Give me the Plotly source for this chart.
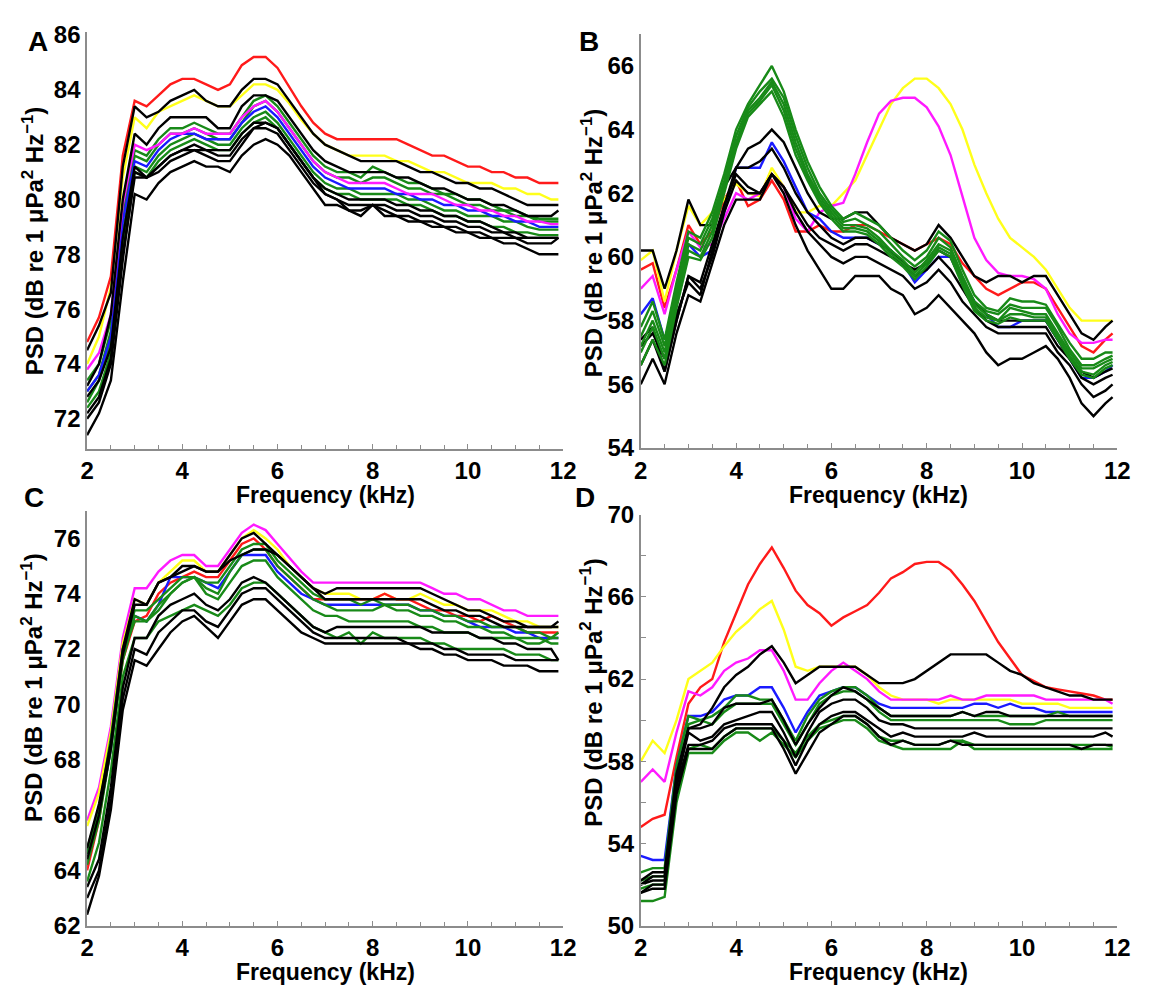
import plotly.graph_objects as go

# Frequency grid shared by all four panels (kHz)
FREQ_KHZ = [2.0, 2.25, 2.5, 2.75, 3.0, 3.25, 3.5, 3.75, 4.0, 4.25,
            4.5, 4.75, 5.0, 5.25, 5.5, 5.75, 6.0, 6.25, 6.5, 6.75,
            7.0, 7.25, 7.5, 7.75, 8.0, 8.25, 8.5, 8.75, 9.0, 9.25,
            9.5, 9.75, 10.0, 10.25, 10.5, 10.75, 11.0, 11.25, 11.5, 11.75,
            11.9]

X_TICKS = [2, 4, 6, 8, 10, 12]

# ---------------- Panel A ----------------
A_RED = [74.8, 75.7, 77.2, 81.6, 83.6, 83.4, 83.8, 84.2, 84.4, 84.4,
         84.2, 84.0, 84.2, 84.9, 85.2, 85.2, 84.8, 84.1, 83.4, 82.8,
         82.4, 82.2, 82.2, 82.2, 82.2, 82.2, 82.2, 82.0, 81.8, 81.6,
         81.6, 81.4, 81.2, 81.2, 81.0, 81.0, 80.8, 80.8, 80.6, 80.6,
         80.6]
A_YELLOW = [74.0, 75.0, 76.8, 80.8, 83.0, 82.6, 83.2, 83.4, 83.6, 83.8,
            83.6, 83.4, 83.4, 83.8, 84.2, 84.2, 84.0, 83.5, 82.9, 82.4,
            82.0, 81.8, 81.6, 81.6, 81.6, 81.6, 81.4, 81.4, 81.2, 81.0,
            81.0, 80.8, 80.6, 80.6, 80.6, 80.4, 80.4, 80.2, 80.2, 80.0,
            80.0]
A_MAGENTA = [73.8, 74.4, 75.8, 79.8, 82.0, 81.8, 82.0, 82.4, 82.4, 82.6,
             82.4, 82.4, 82.4, 83.0, 83.4, 83.6, 83.2, 82.6, 82.0, 81.4,
             81.0, 80.8, 80.6, 80.6, 80.6, 80.6, 80.4, 80.2, 80.2, 80.2,
             80.0, 79.8, 79.8, 79.6, 79.6, 79.4, 79.4, 79.2, 79.2, 79.1,
             79.1]
A_BLUE = [73.0, 73.6, 75.0, 79.2, 81.4, 81.2, 81.8, 82.2, 82.4, 82.4,
          82.2, 82.2, 82.2, 82.8, 83.2, 83.4, 83.0, 82.4, 81.8, 81.2,
          80.8, 80.6, 80.4, 80.4, 80.4, 80.4, 80.2, 80.2, 80.0, 80.0,
          79.8, 79.8, 79.6, 79.6, 79.4, 79.4, 79.2, 79.2, 79.0, 79.0,
          79.0]
A_GREEN1 = [73.4, 74.0, 75.6, 79.6, 81.8, 81.6, 82.2, 82.6, 82.6, 82.8,
            82.6, 82.4, 82.4, 83.0, 83.6, 83.8, 83.4, 82.8, 82.2, 81.6,
            81.2, 81.0, 81.0, 80.8, 81.2, 81.0, 80.8, 80.6, 80.6, 80.4,
            80.2, 80.2, 80.0, 80.0, 79.8, 79.6, 79.6, 79.4, 79.3, 79.3,
            79.3]
A_GREEN2 = [73.0, 73.6, 75.2, 79.4, 81.6, 81.4, 82.0, 82.4, 82.4, 82.6,
            82.4, 82.2, 82.2, 82.8, 83.4, 83.6, 83.2, 82.6, 82.0, 81.4,
            81.0, 80.8, 80.8, 80.6, 80.8, 80.8, 80.6, 80.4, 80.4, 80.2,
            80.2, 80.0, 79.8, 79.8, 79.6, 79.6, 79.4, 79.4, 79.2, 79.2,
            79.2]
A_GREEN3 = [72.6, 73.4, 74.8, 78.8, 81.2, 81.0, 81.6, 82.0, 82.2, 82.4,
            82.2, 82.0, 82.0, 82.6, 83.0, 83.2, 82.8, 82.2, 81.6, 81.0,
            80.6, 80.4, 80.4, 80.2, 80.2, 80.2, 80.2, 80.0, 80.0, 79.8,
            79.6, 79.6, 79.4, 79.4, 79.4, 79.2, 79.2, 79.0, 78.9, 78.9,
            78.9]
A_GREEN4 = [72.4, 73.0, 74.4, 78.4, 81.0, 80.8, 81.4, 81.8, 82.0, 82.2,
            82.0, 81.8, 81.8, 82.4, 82.8, 83.0, 82.6, 82.0, 81.4, 80.8,
            80.4, 80.2, 80.2, 80.0, 80.0, 80.0, 80.0, 79.8, 79.8, 79.6,
            79.4, 79.4, 79.2, 79.2, 79.0, 79.0, 78.8, 78.8, 78.7, 78.7,
            78.7]
A_BLACK1 = [74.5, 75.4, 76.6, 81.2, 83.4, 83.0, 83.2, 83.6, 83.8, 84.0,
            83.6, 83.4, 83.4, 84.0, 84.4, 84.4, 84.2, 83.6, 83.0, 82.4,
            82.0, 81.8, 81.6, 81.4, 81.4, 81.4, 81.4, 81.2, 81.0, 81.0,
            80.8, 80.6, 80.6, 80.4, 80.4, 80.2, 80.0, 79.8, 79.8, 79.8,
            79.8]
A_BLACK2 = [73.2, 74.0, 75.8, 80.0, 82.4, 82.0, 82.6, 83.0, 83.0, 83.0,
            83.0, 82.6, 82.6, 83.4, 83.8, 83.8, 83.6, 83.0, 82.4, 81.8,
            81.4, 81.2, 81.0, 81.0, 81.0, 81.0, 80.8, 80.8, 80.6, 80.4,
            80.4, 80.2, 80.0, 80.0, 79.8, 79.8, 79.6, 79.4, 79.4, 79.4,
            79.6]
A_BLACK3 = [72.8, 73.4, 74.6, 78.6, 81.2, 80.8, 81.2, 81.6, 81.8, 82.0,
            81.8, 81.8, 81.8, 82.4, 82.8, 82.8, 82.6, 82.0, 81.4, 80.8,
            80.4, 80.2, 80.0, 80.0, 80.0, 80.0, 79.8, 79.8, 79.6, 79.6,
            79.4, 79.4, 79.2, 79.2, 79.0, 78.8, 78.8, 78.6, 78.6, 78.6,
            78.6]
A_BLACK4 = [72.2, 72.8, 74.2, 78.0, 80.8, 80.8, 81.2, 81.6, 81.8, 81.8,
            81.8, 81.6, 81.6, 82.2, 82.6, 82.6, 82.4, 81.8, 81.2, 80.6,
            80.2, 80.0, 79.8, 79.8, 79.8, 79.8, 79.6, 79.6, 79.4, 79.4,
            79.2, 79.2, 79.0, 79.0, 78.8, 78.8, 78.6, 78.6, 78.6, 78.6,
            78.6]
A_BLACK5 = [72.0, 72.6, 74.0, 77.8, 81.0, 80.8, 81.0, 81.4, 81.6, 81.8,
            81.6, 81.4, 81.4, 82.0, 82.6, 82.8, 82.6, 82.0, 81.4, 80.8,
            80.2, 80.0, 79.6, 79.6, 79.8, 79.6, 79.4, 79.4, 79.2, 79.2,
            79.0, 79.0, 78.8, 78.8, 78.6, 78.6, 78.6, 78.4, 78.4, 78.4,
            78.6]
A_BLACK6 = [71.4, 72.2, 73.4, 77.0, 80.2, 80.0, 80.6, 81.0, 81.2, 81.4,
            81.2, 81.2, 81.0, 81.6, 82.0, 82.2, 82.0, 81.6, 81.0, 80.4,
            79.8, 79.8, 79.6, 79.4, 79.8, 79.4, 79.4, 79.2, 79.2, 79.0,
            79.0, 78.8, 78.8, 78.6, 78.6, 78.4, 78.4, 78.2, 78.0, 78.0,
            78.0]

# ---------------- Panel B ----------------
B_RED = [59.6, 59.8, 58.4, 59.6, 61.0, 60.4, 60.8, 61.8, 62.4, 61.6,
         61.8, 62.4, 61.8, 60.8, 60.8, 61.0, 60.8, 60.8, 61.0, 61.0,
         60.8, 60.6, 60.4, 60.2, 60.4, 60.6, 60.4, 59.8, 59.4, 59.0,
         58.8, 59.0, 59.2, 59.2, 59.0, 58.4, 57.8, 57.2, 57.0, 57.4,
         57.6]
B_YELLOW = [59.9, 60.2, 58.6, 60.2, 61.6, 61.0, 61.4, 61.8, 62.3, 62.0,
            61.9, 62.8, 62.2, 61.4, 61.4, 61.6, 61.6, 62.0, 62.4, 63.2,
            64.0, 64.8, 65.3, 65.6, 65.6, 65.3, 64.8, 64.0, 62.9, 62.0,
            61.2, 60.6, 60.3, 60.0, 59.6, 59.0, 58.4, 58.0, 58.0, 58.0,
            58.0]
B_MAGENTA = [59.0, 59.4, 58.2, 59.6, 60.8, 60.3, 60.4, 61.2, 62.0, 61.8,
             62.0, 62.6, 62.2, 61.2, 60.8, 61.4, 61.6, 61.7, 62.6, 63.6,
             64.5, 64.9, 65.0, 65.0, 64.7, 64.1, 63.2, 61.9, 60.6, 59.9,
             59.5, 59.4, 59.4, 59.3, 59.0, 58.2, 57.6, 57.3, 57.3, 57.4,
             57.4]
B_BLUE = [58.2, 58.7, 57.4, 58.6, 60.4, 60.0, 60.2, 61.4, 62.8, 62.8,
          62.8, 63.6, 63.0, 62.2, 61.4, 61.2, 60.8, 60.6, 60.6, 60.6,
          60.4, 60.2, 59.8, 59.2, 59.6, 60.0, 60.0, 59.2, 58.6, 58.2,
          57.8, 57.8, 58.0, 58.0, 58.0, 57.4, 56.8, 56.2, 56.2, 56.4,
          56.6]
B_GREEN1 = [57.8, 58.6, 57.4, 59.2, 60.8, 60.6, 61.4, 62.6, 64.0, 64.8,
            65.4, 66.0, 65.2, 64.0, 63.0, 62.2, 61.6, 61.2, 61.4, 61.2,
            61.0, 60.6, 60.2, 59.9, 60.2, 60.8, 60.5, 59.6, 58.8, 58.4,
            58.3, 58.7, 58.6, 58.6, 58.5, 57.9, 57.3, 56.8, 56.8, 57.0,
            57.0]
B_GREEN2 = [57.5, 58.3, 57.2, 59.0, 60.6, 60.4, 61.2, 62.4, 63.8, 64.7,
            65.2, 65.6, 65.0, 63.8, 62.8, 62.0, 61.5, 61.1, 61.2, 61.0,
            60.8, 60.4, 60.0, 59.7, 60.0, 60.6, 60.3, 59.4, 58.6, 58.3,
            58.2, 58.5, 58.4, 58.4, 58.4, 57.8, 57.1, 56.6, 56.6, 56.8,
            56.9]
B_GREEN3 = [57.2, 58.0, 57.0, 58.8, 60.4, 60.2, 61.0, 62.3, 63.6, 64.6,
            65.0, 65.5, 64.8, 63.6, 62.6, 61.9, 61.4, 61.0, 61.0, 60.9,
            60.6, 60.2, 59.9, 59.5, 59.9, 60.4, 60.2, 59.3, 58.5, 58.2,
            58.0, 58.4, 58.3, 58.2, 58.2, 57.6, 57.0, 56.5, 56.5, 56.7,
            56.8]
B_GREEN4 = [57.0, 57.8, 56.8, 58.6, 60.2, 60.0, 60.8, 62.2, 63.5, 64.5,
            64.9, 65.4, 64.6, 63.4, 62.5, 61.8, 61.3, 60.9, 60.9, 60.8,
            60.5, 60.1, 59.8, 59.4, 59.8, 60.3, 60.1, 59.2, 58.4, 58.1,
            58.0, 58.2, 58.2, 58.1, 58.1, 57.5, 56.9, 56.4, 56.3, 56.6,
            56.7]
B_GREEN5 = [56.6, 57.4, 56.6, 58.4, 60.0, 59.9, 60.6, 62.0, 63.4, 64.4,
            64.8, 65.2, 64.4, 63.2, 62.4, 61.7, 61.2, 60.8, 60.8, 60.7,
            60.4, 60.0, 59.7, 59.3, 59.7, 60.2, 60.0, 59.1, 58.3, 58.0,
            57.9, 58.1, 58.0, 58.0, 58.0, 57.4, 56.8, 56.3, 56.2, 56.5,
            56.6]
B_BLACK1 = [60.2, 60.2, 59.0, 60.2, 61.8, 61.0, 61.0, 62.2, 62.8, 63.4,
            63.6, 64.0, 63.6, 62.8, 62.0, 61.4, 61.2, 61.2, 61.4, 61.4,
            61.0, 60.6, 60.4, 60.2, 60.4, 61.0, 60.6, 60.0, 59.4, 59.2,
            59.4, 59.4, 59.2, 59.4, 59.4, 58.8, 58.2, 57.6, 57.4, 57.8,
            58.0]
B_BLACK2 = [57.4, 57.8, 56.4, 58.0, 59.4, 59.2, 60.4, 61.6, 62.8, 62.8,
            63.0, 63.4, 62.8, 62.0, 61.4, 61.0, 60.6, 60.4, 60.6, 60.6,
            60.4, 60.2, 59.8, 59.6, 59.8, 60.2, 60.0, 59.2, 58.6, 58.2,
            58.0, 58.0, 58.0, 58.0, 58.0, 57.4, 56.8, 56.4, 56.2, 56.4,
            56.5]
B_BLACK3 = [56.6, 57.4, 56.4, 58.0, 59.4, 59.0, 60.0, 61.4, 62.4, 62.0,
            62.0, 62.6, 62.2, 61.4, 60.8, 60.4, 60.0, 59.8, 60.0, 60.0,
            59.8, 59.6, 59.4, 59.0, 59.2, 59.6, 59.2, 58.6, 58.2, 57.8,
            57.6, 57.6, 57.6, 57.6, 57.6, 57.0, 56.6, 56.0, 55.6, 55.8,
            56.0]
B_BLACK4 = [56.0, 56.8, 56.0, 57.6, 58.8, 58.6, 59.8, 61.0, 61.8, 61.8,
            61.8, 62.6, 62.0, 61.0, 60.2, 59.6, 59.0, 59.0, 59.4, 59.4,
            59.4, 59.0, 58.8, 58.2, 58.4, 58.8, 58.4, 58.0, 57.6, 57.0,
            56.6, 56.8, 56.8, 57.0, 57.2, 56.8, 56.2, 55.4, 55.0, 55.4,
            55.6]
B_BLACK5 = [57.2, 57.6, 56.8, 58.2, 59.2, 58.8, 60.2, 61.6, 62.6, 62.2,
            62.0, 62.6, 62.2, 61.6, 61.0, 60.6, 60.4, 60.2, 60.4, 60.4,
            60.2, 60.0, 59.8, 59.4, 59.6, 60.0, 59.6, 59.0, 58.4, 58.0,
            57.8, 57.8, 57.8, 57.8, 57.8, 57.2, 56.8, 56.2, 56.0, 56.2,
            56.3]

# ---------------- Panel C ----------------
C_MAGENTA = [65.8, 67.0, 69.2, 72.4, 74.2, 74.2, 74.8, 75.2, 75.4, 75.4,
             75.0, 75.0, 75.6, 76.2, 76.5, 76.3, 75.8, 75.3, 74.8, 74.4,
             74.4, 74.4, 74.4, 74.4, 74.4, 74.4, 74.4, 74.4, 74.4, 74.2,
             74.0, 74.0, 73.8, 73.8, 73.6, 73.4, 73.4, 73.2, 73.2, 73.2,
             73.2]
C_YELLOW = [65.6, 66.8, 69.0, 72.2, 73.8, 73.6, 74.4, 74.8, 75.2, 75.2,
            74.8, 74.8, 75.4, 76.0, 76.3, 76.0, 75.6, 75.0, 74.6, 74.2,
            74.0, 74.0, 74.0, 73.8, 73.8, 74.0, 73.8, 73.8, 74.0, 73.8,
            73.6, 73.6, 73.4, 73.4, 73.4, 73.2, 73.0, 73.0, 72.8, 72.8,
            72.8]
C_RED = [64.0, 65.8, 68.6, 71.6, 73.0, 73.2, 74.0, 74.4, 74.6, 74.8,
         74.6, 74.6, 75.2, 75.8, 76.0, 75.6, 75.0, 74.6, 74.2, 73.8,
         73.8, 73.8, 73.8, 73.8, 73.8, 74.0, 73.8, 73.8, 73.6, 73.4,
         73.4, 73.2, 73.2, 73.0, 73.2, 73.0, 72.8, 72.6, 72.6, 72.6,
         72.6]
C_BLUE = [64.6, 66.0, 68.4, 71.8, 73.2, 73.0, 73.6, 74.6, 74.6, 74.6,
          74.4, 74.2, 74.8, 75.4, 75.4, 75.4, 74.8, 74.4, 74.0, 73.8,
          73.6, 73.6, 73.6, 73.6, 73.6, 73.6, 73.6, 73.6, 73.4, 73.4,
          73.2, 73.2, 73.0, 72.8, 72.8, 72.8, 72.6, 72.6, 72.4, 72.4,
          72.4]
C_GREEN1 = [64.6, 66.2, 68.8, 72.0, 73.4, 73.4, 73.8, 74.2, 74.6, 74.6,
            74.4, 74.4, 75.0, 75.6, 75.8, 75.8, 75.2, 74.8, 74.4, 74.0,
            73.8, 73.8, 73.8, 73.6, 73.8, 73.6, 73.6, 73.6, 73.4, 73.4,
            73.2, 73.2, 73.0, 73.0, 72.8, 72.8, 72.8, 72.6, 72.6, 72.4,
            72.6]
C_GREEN2 = [64.2, 65.8, 68.4, 71.6, 73.2, 73.0, 73.6, 74.0, 74.4, 74.6,
            74.2, 74.0, 74.8, 75.4, 75.6, 75.6, 75.0, 74.6, 74.2, 73.8,
            73.6, 73.4, 73.4, 73.4, 73.4, 73.6, 73.4, 73.4, 73.2, 73.2,
            73.0, 73.0, 72.8, 72.8, 72.6, 72.6, 72.4, 72.4, 72.4, 72.2,
            72.2]
C_GREEN3 = [64.8, 66.2, 68.6, 71.8, 73.0, 73.0, 73.4, 74.0, 74.4, 74.6,
            74.0, 73.8, 74.4, 75.0, 75.2, 75.2, 74.6, 74.2, 73.8, 73.4,
            73.2, 73.2, 73.0, 73.0, 73.0, 73.0, 73.0, 73.0, 72.8, 72.8,
            72.6, 72.6, 72.6, 72.4, 72.4, 72.4, 72.4, 72.2, 72.2, 72.4,
            72.4]
C_GREEN4 = [63.6, 65.0, 67.6, 71.0, 72.4, 72.4, 73.0, 73.2, 73.4, 73.6,
            73.4, 73.2, 73.6, 74.2, 74.4, 74.4, 74.0, 73.6, 73.2, 72.8,
            72.6, 72.4, 72.6, 72.2, 72.6, 72.4, 72.4, 72.4, 72.4, 72.2,
            72.2, 72.0, 72.0, 72.0, 72.0, 72.0, 71.8, 71.8, 71.8, 71.6,
            71.6]
C_BLACK1 = [64.8, 66.4, 68.6, 72.0, 73.8, 73.6, 74.4, 74.6, 74.8, 75.0,
            74.8, 74.8, 75.4, 76.0, 76.2, 75.8, 75.4, 75.0, 74.6, 74.2,
            74.0, 74.2, 74.2, 74.2, 74.2, 74.2, 74.2, 74.2, 74.2, 74.0,
            73.8, 73.6, 73.4, 73.4, 73.2, 73.0, 73.0, 72.8, 72.8, 72.8,
            73.0]
C_BLACK2 = [64.4, 66.0, 68.4, 71.8, 73.6, 73.6, 74.4, 74.6, 75.0, 75.0,
            74.8, 74.8, 75.2, 75.4, 75.6, 75.6, 75.4, 75.0, 74.6, 74.2,
            73.8, 73.8, 73.8, 73.8, 73.8, 73.8, 73.8, 73.8, 73.8, 73.6,
            73.4, 73.4, 73.2, 73.2, 73.0, 72.8, 72.8, 72.8, 72.8, 72.8,
            72.8]
C_BLACK3 = [63.4, 64.4, 67.0, 70.6, 72.4, 72.4, 73.2, 73.6, 73.8, 74.0,
            73.6, 73.4, 73.8, 74.4, 74.6, 74.4, 74.0, 73.6, 73.2, 72.8,
            72.6, 72.8, 72.8, 72.8, 72.8, 72.8, 72.8, 72.8, 72.8, 72.6,
            72.6, 72.6, 72.6, 72.4, 72.4, 72.2, 72.2, 72.0, 72.0, 72.0,
            71.6]
C_BLACK4 = [63.0, 64.0, 66.6, 70.2, 72.0, 71.8, 72.6, 73.0, 73.4, 73.4,
            73.0, 72.8, 73.4, 74.0, 74.2, 74.2, 73.8, 73.4, 73.0, 72.6,
            72.4, 72.4, 72.4, 72.4, 72.4, 72.4, 72.4, 72.2, 72.2, 72.2,
            72.0, 72.0, 71.8, 71.8, 71.8, 71.8, 71.6, 71.6, 71.6, 71.6,
            71.6]
C_BLACK5 = [62.4, 63.8, 66.2, 69.8, 71.6, 71.4, 72.0, 72.6, 73.0, 73.2,
            72.8, 72.4, 73.0, 73.6, 73.8, 73.8, 73.4, 73.0, 72.6, 72.4,
            72.2, 72.2, 72.2, 72.2, 72.2, 72.2, 72.2, 72.2, 72.0, 72.0,
            71.8, 71.8, 71.6, 71.6, 71.6, 71.4, 71.4, 71.4, 71.2, 71.2,
            71.2]

# ---------------- Panel D ----------------
D_RED = [54.8, 55.2, 55.4, 58.2, 60.8, 61.6, 62.0, 63.8, 65.2, 66.6,
         67.6, 68.4, 67.4, 66.3, 65.6, 65.2, 64.6, 65.0, 65.3, 65.6,
         66.2, 66.9, 67.2, 67.6, 67.7, 67.7, 67.3, 66.6, 65.8, 64.8,
         63.8, 63.0, 62.2, 61.9, 61.6, 61.5, 61.4, 61.3, 61.2, 61.0,
         61.0]
D_YELLOW = [58.0, 59.0, 58.4, 60.0, 62.0, 62.4, 62.8, 63.6, 64.3, 64.8,
            65.4, 65.8, 64.4, 62.6, 62.4, 62.6, 62.6, 62.6, 62.6, 62.2,
            61.6, 61.2, 61.0, 61.0, 61.0, 60.8, 61.0, 61.0, 61.0, 61.0,
            61.0, 61.0, 60.8, 60.8, 60.8, 60.8, 60.6, 60.6, 60.6, 60.6,
            60.6]
D_MAGENTA = [57.0, 57.6, 57.0, 59.4, 61.4, 61.2, 61.6, 62.4, 62.8, 63.0,
             63.4, 63.4, 62.4, 61.0, 61.0, 61.8, 62.4, 62.8, 62.4, 62.0,
             61.4, 61.0, 61.0, 61.0, 61.0, 61.0, 61.2, 61.0, 61.0, 61.2,
             61.2, 61.2, 61.2, 61.2, 61.0, 61.0, 61.0, 61.0, 61.0, 61.0,
             60.8]
D_BLUE = [53.4, 53.2, 53.2, 57.8, 60.2, 60.2, 60.4, 61.0, 61.2, 61.2,
          61.6, 61.6, 60.6, 59.4, 60.4, 61.2, 61.4, 61.6, 61.6, 61.2,
          60.8, 60.6, 60.6, 60.6, 60.6, 60.6, 60.6, 60.6, 60.8, 60.8,
          60.6, 60.8, 60.6, 60.6, 60.4, 60.4, 60.4, 60.4, 60.4, 60.4,
          60.4]
D_GREEN1 = [52.6, 52.8, 52.8, 57.8, 60.2, 60.0, 60.2, 60.6, 61.2, 61.2,
            61.0, 61.0, 60.0, 59.0, 60.2, 61.0, 61.4, 61.6, 61.6, 61.2,
            60.6, 60.2, 60.2, 60.2, 60.2, 60.2, 60.2, 60.4, 60.2, 60.2,
            60.2, 60.2, 60.2, 60.2, 60.2, 60.4, 60.2, 60.2, 60.2, 60.2,
            60.2]
D_GREEN2 = [52.2, 52.4, 52.4, 57.2, 59.8, 60.0, 59.8, 60.4, 60.8, 60.8,
            60.8, 60.8, 59.8, 58.8, 59.8, 60.8, 61.2, 61.4, 61.4, 61.0,
            60.4, 60.0, 60.0, 60.0, 60.0, 60.0, 60.0, 60.0, 60.0, 60.0,
            60.0, 59.8, 59.8, 59.8, 60.0, 60.0, 60.0, 60.0, 60.0, 60.0,
            60.0]
D_GREEN3 = [51.8, 52.0, 52.0, 56.6, 58.6, 58.8, 58.6, 59.2, 59.6, 59.6,
            59.6, 59.6, 59.0, 58.4, 59.2, 59.8, 60.0, 60.2, 60.2, 59.8,
            59.2, 59.0, 59.0, 58.8, 58.8, 58.8, 59.0, 59.0, 58.8, 58.8,
            58.8, 58.8, 58.8, 58.8, 58.8, 58.8, 58.8, 58.8, 58.8, 58.8,
            58.7]
D_GREEN4 = [51.2, 51.2, 51.4, 56.0, 58.4, 58.4, 58.4, 59.0, 59.4, 59.4,
            59.0, 59.4, 58.8, 58.2, 59.0, 59.6, 59.8, 60.0, 60.0, 59.6,
            59.0, 58.8, 58.6, 58.6, 58.6, 58.6, 58.6, 59.0, 58.6, 58.6,
            58.6, 58.6, 58.6, 58.6, 58.6, 58.6, 58.6, 58.6, 58.6, 58.6,
            58.6]
D_BLACK1 = [52.0, 52.4, 52.4, 57.0, 59.6, 59.8, 60.6, 61.6, 62.2, 62.6,
            63.2, 63.6, 62.8, 61.8, 62.2, 62.6, 62.6, 62.6, 62.6, 62.2,
            61.8, 61.8, 61.8, 62.0, 62.4, 62.8, 63.2, 63.2, 63.2, 63.2,
            62.8, 62.4, 62.2, 61.8, 61.6, 61.4, 61.2, 61.2, 61.0, 61.0,
            61.0]
D_BLACK2 = [52.2, 52.6, 52.6, 57.4, 59.6, 59.6, 59.8, 60.6, 60.8, 60.8,
            60.8, 61.0, 60.0, 58.8, 59.8, 60.6, 61.2, 61.6, 61.4, 61.0,
            60.6, 60.2, 60.2, 60.2, 60.2, 60.2, 60.2, 60.4, 60.2, 60.4,
            60.4, 60.2, 60.2, 60.2, 60.2, 60.2, 60.2, 60.2, 60.2, 60.2,
            60.2]
D_BLACK3 = [52.0, 52.2, 52.2, 57.0, 59.4, 59.0, 59.2, 59.8, 60.0, 60.2,
            60.4, 60.4, 59.4, 58.2, 59.4, 60.4, 60.8, 61.0, 61.0, 60.6,
            60.0, 59.8, 59.8, 59.6, 59.6, 59.6, 59.6, 59.6, 59.6, 59.6,
            59.6, 59.6, 59.6, 59.6, 59.6, 59.6, 59.6, 59.6, 59.6, 59.6,
            59.6]
D_BLACK4 = [51.6, 52.0, 52.0, 56.8, 58.8, 58.8, 59.0, 59.6, 59.8, 59.8,
            59.8, 59.8, 59.0, 57.8, 59.0, 59.8, 60.2, 60.4, 60.4, 60.0,
            59.6, 59.2, 59.4, 59.2, 59.2, 59.2, 59.2, 59.2, 59.4, 59.2,
            59.2, 59.2, 59.2, 59.2, 59.2, 59.2, 59.2, 59.2, 59.2, 59.4,
            59.2]
D_BLACK5 = [51.6, 51.8, 51.8, 56.4, 58.6, 58.6, 58.6, 59.2, 59.6, 59.6,
            59.6, 59.6, 58.6, 57.4, 58.4, 59.4, 59.8, 60.2, 60.2, 59.8,
            59.2, 58.8, 59.0, 58.8, 58.8, 58.8, 59.0, 58.8, 58.8, 58.8,
            58.8, 58.8, 58.8, 58.8, 58.8, 58.8, 58.8, 58.6, 58.8, 58.8,
            58.8]

COLORS = {
    "red": "#ff1a1a",
    "yellow": "#ffff1a",
    "magenta": "#ff1aff",
    "blue": "#1a1aff",
    "green": "#188a18",
    "black": "#000000",
}

# Draw order within each panel: first entry at the back
PANEL_SERIES = {
    "A": [("green", A_GREEN1), ("green", A_GREEN2), ("green", A_GREEN3), ("green", A_GREEN4),
          ("blue", A_BLUE), ("magenta", A_MAGENTA), ("yellow", A_YELLOW), ("red", A_RED),
          ("black", A_BLACK1), ("black", A_BLACK2), ("black", A_BLACK3), ("black", A_BLACK4),
          ("black", A_BLACK5), ("black", A_BLACK6)],
    "B": [("red", B_RED), ("yellow", B_YELLOW), ("magenta", B_MAGENTA), ("blue", B_BLUE),
          ("black", B_BLACK1), ("black", B_BLACK2), ("black", B_BLACK3), ("black", B_BLACK4),
          ("black", B_BLACK5),
          ("green", B_GREEN1), ("green", B_GREEN2), ("green", B_GREEN3), ("green", B_GREEN4),
          ("green", B_GREEN5)],
    "C": [("magenta", C_MAGENTA), ("yellow", C_YELLOW), ("red", C_RED), ("blue", C_BLUE),
          ("green", C_GREEN1), ("green", C_GREEN2), ("green", C_GREEN3), ("green", C_GREEN4),
          ("black", C_BLACK1), ("black", C_BLACK2), ("black", C_BLACK3), ("black", C_BLACK4),
          ("black", C_BLACK5)],
    "D": [("red", D_RED), ("yellow", D_YELLOW), ("magenta", D_MAGENTA), ("blue", D_BLUE),
          ("green", D_GREEN1), ("green", D_GREEN2), ("green", D_GREEN3), ("green", D_GREEN4),
          ("black", D_BLACK1), ("black", D_BLACK2), ("black", D_BLACK3), ("black", D_BLACK4),
          ("black", D_BLACK5)],
}

W, H = 1149, 1001
FONT = "Liberation Sans, Arial, Helvetica, sans-serif"
AXIS_GRAY = "#8c8c8c"
TICK_SIZE = 24
TITLE_SIZE = 23


def px_x(p):
    return p / W


def px_y(p):
    return 1 - p / H


# axis id, x-domain (px), y-domain (px, bottom/top), y-range, y-ticks
PANEL_AXES = {
    "A": ("", (81.5, 566), (447, 18.8), [70.9, 86.1], [72, 74, 76, 78, 80, 82, 84, 86]),
    "B": ("2", (645, 1130), (446, 20.6), [54, 67], [54, 56, 58, 60, 62, 64, 66]),
    "C": ("3", (81.5, 566), (937, 510.5), [62, 77], [62, 64, 66, 68, 70, 72, 74, 76]),
    "D": ("4", (645, 1130), (937, 514.5), [50, 70], [50, 54, 58, 62, 66, 70]),
}

fig = go.Figure()

layout_axes = {}
for panel, (aid, xdom, ydom, yrange, yticks) in PANEL_AXES.items():
    xref = "x" + aid
    yref = "y" + aid
    for color, values in PANEL_SERIES[panel]:
        fig.add_trace(go.Scatter(
            x=FREQ_KHZ, y=values, mode="lines",
            line=dict(color=COLORS[color], width=2.4),
            xaxis=xref, yaxis=yref, showlegend=False, hoverinfo="skip",
        ))
    layout_axes["xaxis" + aid] = dict(
        domain=[px_x(xdom[0]), px_x(xdom[1])], range=[2, 12],
        anchor=yref, tickvals=X_TICKS, ticktext=[str(t) for t in X_TICKS],
        showline=True, linecolor=AXIS_GRAY, linewidth=1.5,
        ticks="inside", ticklen=5, tickcolor=AXIS_GRAY, tickwidth=1,
        minor=dict(dtick=0.5, ticks="inside", ticklen=4, tickcolor=AXIS_GRAY),
        showgrid=False, zeroline=False,
        tickfont=dict(family=FONT, size=TICK_SIZE, color="black", weight="bold"),
    )
    yaxis = dict(
        domain=[px_y(ydom[0]), px_y(ydom[1])], range=yrange,
        anchor=xref, tickvals=yticks, ticktext=[str(t) for t in yticks],
        showline=True, linecolor=AXIS_GRAY, linewidth=1.5,
        ticks="", showgrid=False, zeroline=False,
        tickfont=dict(family=FONT, size=TICK_SIZE, color="black", weight="bold"),
    )
    if panel == "D":
        yaxis.update(ticks="inside", ticklen=5, tickcolor=AXIS_GRAY,
                     minor=dict(dtick=2, ticks="inside", ticklen=5, tickcolor=AXIS_GRAY))
    layout_axes["yaxis" + aid] = yaxis

Y_TITLE = "PSD (dB re 1 μPa<sup>2</sup> Hz<sup>−1</sup>)"
X_TITLE = "Frequency (kHz)"

annotations = []
# panel letters
for letter, (lx, ly) in {"A": (32, 28), "B": (592, 28), "C": (27, 497), "D": (588, 497)}.items():
    annotations.append(dict(text=letter, x=px_x(lx), y=px_y(ly), xref="paper", yref="paper",
                            showarrow=False, xanchor="center", yanchor="middle",
                            font=dict(family=FONT, size=28, color="black", weight="bold")))
# x titles: top row centred below its axis, bottom row sitting on the page edge
for cx, cy, anchor in [(324, 494, "middle"), (887, 494, "middle"),
                       (324, 1000, "bottom"), (887, 1000, "bottom")]:
    annotations.append(dict(text=X_TITLE, x=px_x(cx), y=px_y(cy), xref="paper", yref="paper",
                            showarrow=False, xanchor="center", yanchor=anchor,
                            font=dict(family=FONT, size=TITLE_SIZE, color="black", weight="bold")))
# y titles
for cx, cy in [(26, 233), (595, 235), (26, 692), (595, 697)]:
    annotations.append(dict(text=Y_TITLE, x=px_x(cx), y=px_y(cy), xref="paper", yref="paper",
                            showarrow=False, xanchor="center", yanchor="middle", textangle=-90,
                            font=dict(family=FONT, size=24, color="black", weight="bold")))

fig.update_layout(
    width=W, height=H,
    margin=dict(l=0, r=0, t=0, b=0),
    paper_bgcolor="white", plot_bgcolor="white",
    annotations=annotations,
    **layout_axes,
)

fig.write_html("out.html", config={"displayModeBar": False})
